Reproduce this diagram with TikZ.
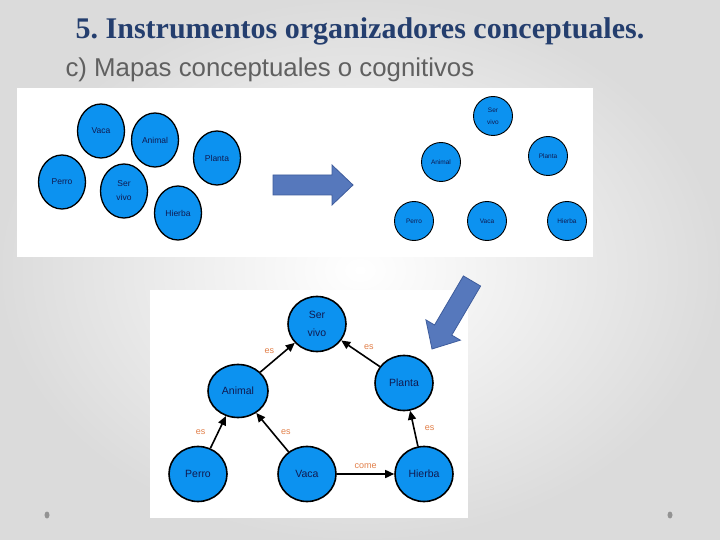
\documentclass[tikz,border=0pt]{standalone}
\usepackage{fontspec}
\setmainfont{Liberation Serif}
\setsansfont{Liberation Sans}
\usepackage{tikz}
\usetikzlibrary{arrows.meta,positioning,shapes.geometric,calc}
\frenchspacing
\definecolor{cmblue}{RGB}{12,146,240}
\definecolor{cmink}{RGB}{16,26,80}
\definecolor{cmorange}{RGB}{226,128,74}
\definecolor{cmtitle}{RGB}{36,62,110}
\definecolor{cmsub}{RGB}{96,96,96}
\definecolor{cmarrow}{RGB}{86,120,188}
\definecolor{cmarrowline}{RGB}{62,92,156}
\tikzset{
  cmconcept/.style={
    ellipse, draw=black, fill=cmblue, line width=1.3pt,
    minimum width=47pt, minimum height=54pt, inner sep=0pt,
    align=center, text=cmink, font=\sffamily\fontsize{8.5}{14}\selectfont
  },
  cmconceptsmall/.style={
    circle, draw=black, fill=cmblue, line width=0.9pt,
    minimum size=39pt, inner sep=0pt,
    align=center, text=cmink, font=\sffamily\fontsize{6.5}{12}\selectfont
  },
  cmconceptmap/.style={
    ellipse, draw=black, fill=cmblue, line width=1.6pt,
    minimum width=58pt, minimum height=55pt, inner sep=0pt,
    align=center, text=cmink, font=\sffamily\fontsize{10.5}{18}\selectfont
  },
  cmedge/.style={-{Triangle[length=9pt,width=8pt]},line width=1.6pt},
  cmlabel/.style={font=\sffamily\fontsize{9}{10}\selectfont,text=cmorange,inner sep=2pt},
  cmbigarrow/.style={fill=cmarrow,draw=cmarrowline,line width=0.8pt,line join=miter},
  cmdot/.style={ellipse,fill=gray!85,minimum width=5pt,minimum height=7pt,inner sep=0pt}
}
\begin{document}
\begin{tikzpicture}[x=1pt,y=-1pt]
  % background of the slide
  \shade[inner color=white,outer color=black!14] (0,0) rectangle (720,540);
  \useasboundingbox (0,0) rectangle (720,540);

  % titles
  \node[font=\bfseries\fontsize{30}{32}\selectfont,text=cmtitle] (title) at (360,31)
    {5. Instrumentos organizadores conceptuales.};
  \node[font=\sffamily\fontsize{25.8}{28}\selectfont,text=cmsub,anchor=west] (subtitle) at (62,70)
    {c) Mapas conceptuales o cognitivos};

  % white panels
  \fill[white] (17,88) rectangle (593,257);
  \fill[white] (150,290) rectangle (468,518);

  % loose concepts
  \node[cmconcept] (lvaca) at (101,131) {Vaca};
  \node[cmconcept] (lanimal) at (155,140) {Animal};
  \node[cmconcept] (lplanta) at (217,158) {Planta};
  \node[cmconcept] (lperro) at (62,182) {Perro};
  \node[cmconcept] (lser) at (124,191) {Ser\\vivo};
  \node[cmconcept] (lhierba) at (178,213) {Hierba};

  % arrow to the ordered concepts
  \draw[cmbigarrow] (273,175) -- (332,175) -- (332,165) -- (353,185)
    -- (332,205) -- (332,195) -- (273,195) -- cycle;

  % ordered concepts
  \node[cmconceptsmall] (oser) at (493,116) {Ser\\vivo};
  \node[cmconceptsmall] (oanimal) at (441,162) {Animal};
  \node[cmconceptsmall] (oplanta) at (548,156) {Planta};
  \node[cmconceptsmall] (operro) at (414,221) {Perro};
  \node[cmconceptsmall] (ovaca) at (487,221) {Vaca};
  \node[cmconceptsmall] (ohierba) at (567,221) {Hierba};

  % arrow to the map
  \coordinate (dtail) at (472,281);
  \coordinate (dtip) at (432,349);
  \coordinate (dbase) at ($(dtip)!22pt!(dtail)$);
  \draw[cmbigarrow] ($(dtail)!10pt!90:(dtip)$) -- ($(dbase)!10pt!-90:(dtail)$)
    -- ($(dbase)!20pt!-90:(dtail)$) -- (dtip) -- ($(dbase)!20pt!90:(dtail)$)
    -- ($(dbase)!10pt!90:(dtail)$) -- ($(dtail)!10pt!-90:(dtip)$) -- cycle;

  % concept map
  \node[cmconceptmap] (ser) at (317,324) {Ser\\vivo};
  \node[cmconceptmap,minimum width=60pt,minimum height=53pt] (animal) at (238,391) {Animal};
  \node[cmconceptmap] (planta) at (404,383) {Planta};
  \node[cmconceptmap] (perro) at (198,474) {Perro};
  \node[cmconceptmap] (vaca) at (307,474) {Vaca};
  \node[cmconceptmap] (hierba) at (424,474) {Hierba};
  \draw[cmedge] (animal) -- node[cmlabel,above left=1pt] {es} (ser);
  \draw[cmedge] (planta) -- node[cmlabel,above right=1pt] {es} (ser);
  \draw[cmedge] (perro) -- node[cmlabel,left=10pt] {es} (animal);
  \draw[cmedge] (vaca) -- node[cmlabel,right=6pt] {es} (animal);
  \draw[cmedge] (hierba) -- node[cmlabel,right=8pt] {es} (planta);
  \draw[cmedge] (vaca) -- node[cmlabel,above=3pt] {come} (hierba);

  % slide dots
  \node[cmdot] (dotl) at (47,515) {};
  \node[cmdot] (dotr) at (670,515) {};
\end{tikzpicture}
\end{document}
